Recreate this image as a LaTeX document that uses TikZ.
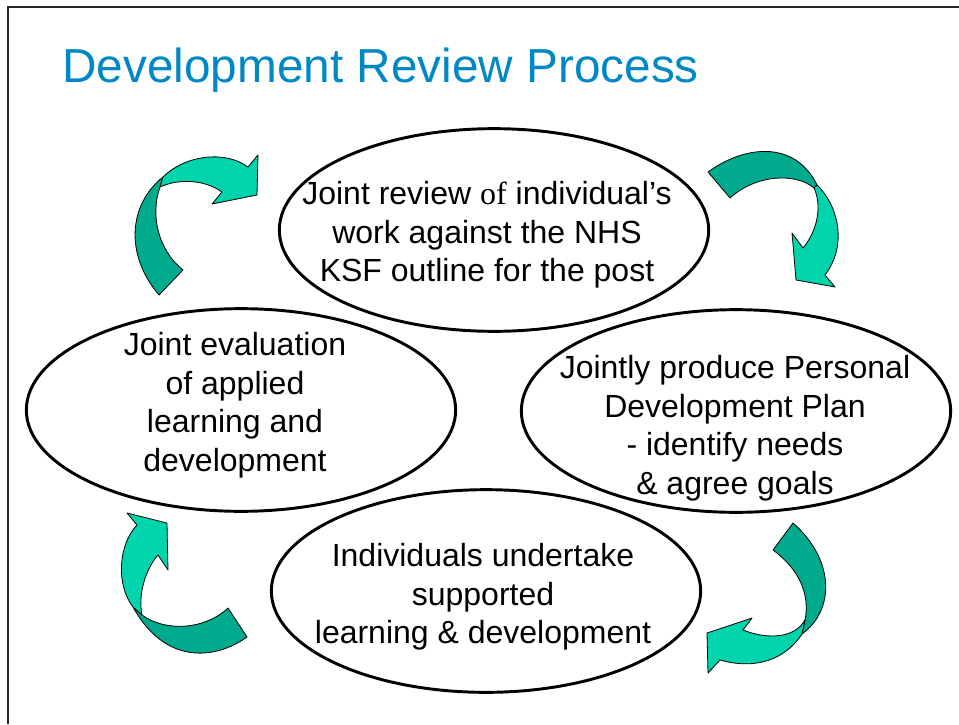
\documentclass[tikz,border=0pt]{standalone}
\usepackage{fontspec}
\setmainfont{Liberation Sans}
\newfontfamily\serifof{Liberation Serif}
\usepackage{tikz}
\usetikzlibrary{shapes.geometric}
\definecolor{titleblue}{RGB}{0,136,198}
\definecolor{tealdark}{RGB}{0,170,140}
\definecolor{teallight}{RGB}{0,212,172}

\begin{document}
\begin{tikzpicture}[x=0.75pt,y=-0.75pt,
	oval/.style={draw,ellipse,line width=2.2pt,minimum width=322pt,
	minimum height=152pt,inner sep=0pt},
	txt/.style={align=center,font=\fontsize{24}{28.9}\selectfont},
	back/.style={draw=black,line width=0.6pt,line join=round,fill=tealdark},
	front/.style={draw=black,line width=0.6pt,line join=round,fill=teallight}]
\useasboundingbox (0,0) rectangle (959,724);
\draw [line width=1.5pt, black!85] (959,7) -- (8,7) -- (8,724);
\node [anchor=base west, inner sep=0pt, text=titleblue, font=\fontsize{35.8}{43}\selectfont] (title) at (62,82) {Development Review Process};

\node [oval] (review) at (494,230) {};
\node [oval] (plan) at (736,411) {};
\node [oval] (learn) at (486,591) {};
\node [oval] (evaluate) at (241,410) {};

\node [txt] (reviewtext) at (487,235) {Joint review {\serifof of} individual’s\\work against the NHS\\KSF outline for the post};
\node [txt] (plantext) at (735,428) {Jointly produce Personal\\Development Plan\\- identify needs\\\& agree goals};
\node [txt] (learntext) at (483,597) {Individuals undertake\\supported\\learning \& development};
\node [txt] (evaluatetext) at (235,405) {Joint evaluation\\of applied\\learning and\\development};

% evaluate -> review
\draw [back] (159,295) .. controls (125,255) and (128,205) .. (163,177) -- (160,187) .. controls (150,215) and (158,250) .. (183,270) -- cycle;
\draw [front] (163,177) .. controls (185,155) and (225,150) .. (248,167) -- (258,155) -- (257,195) -- (212,204) -- (222,192) .. controls (205,180) and (180,178) .. (160,187) -- cycle;
% review -> plan
\draw [back] (708,172) .. controls (745,145) and (795,140) .. (817,185) -- (814,188) .. controls (795,172) and (755,175) .. (730,198) -- cycle;
\draw [front] (817,185) .. controls (838,205) and (848,245) .. (825,275) -- (835,287) -- (796,280) -- (792,233) -- (803,248) .. controls (818,230) and (822,205) .. (814,188) -- cycle;
% plan -> learn
\draw [back] (793,523) .. controls (835,560) and (835,610) .. (802,634) -- (805,620) .. controls (810,595) and (800,570) .. (773,550) -- cycle;
\draw [front] (802,634) .. controls (785,660) and (755,670) .. (720,660) -- (708,673) -- (707,633) -- (752,618) -- (743,630) .. controls (768,640) and (795,638) .. (805,620) -- cycle;
% learn -> evaluate
\draw [back] (247,637) .. controls (215,660) and (165,665) .. (133,607) -- (142,615) .. controls (165,632) and (205,630) .. (228,608) -- cycle;
\draw [front] (133,607) .. controls (116,585) and (118,545) .. (137,525) -- (127,513) -- (167,523) -- (168,570) -- (158,555) .. controls (145,570) and (138,595) .. (142,615) -- cycle;
\end{tikzpicture}
\end{document}
